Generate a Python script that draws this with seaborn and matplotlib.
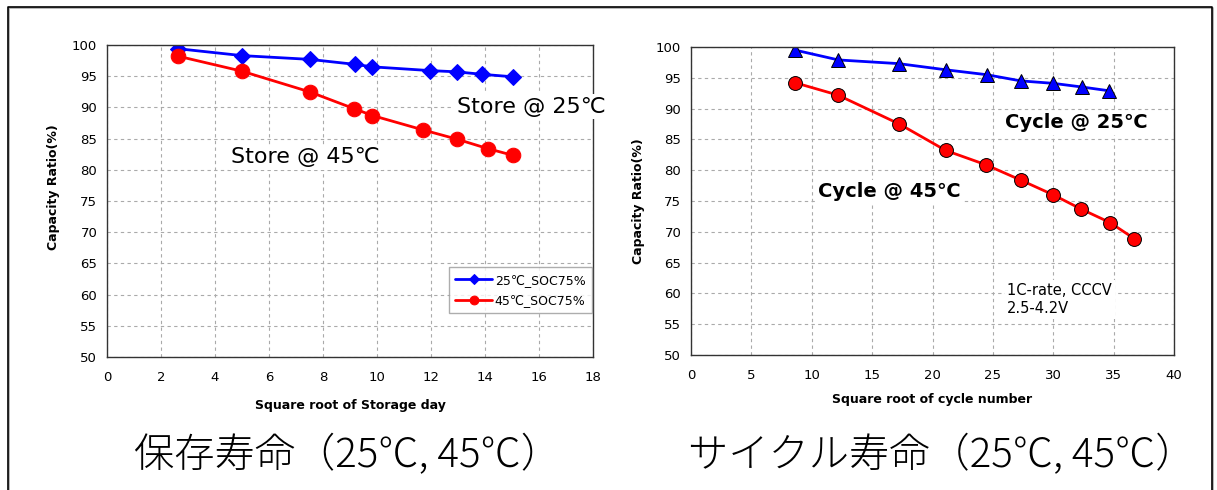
import matplotlib
matplotlib.use("Agg")
import matplotlib.pyplot as plt
import seaborn as sns
import pandas as pd
from matplotlib.lines import Line2D

# ---------------- data ----------------
store_x25 = [2.64, 5.0, 7.5, 9.18, 9.83, 11.96, 12.95, 13.9, 15.05]
store_y25 = [99.4, 98.3, 97.7, 96.9, 96.5, 95.9, 95.7, 95.3, 94.9]
store_x45 = [2.64, 5.0, 7.5, 9.15, 9.83, 11.7, 12.97, 14.1, 15.05]
store_y45 = [98.2, 95.8, 92.5, 89.8, 88.7, 86.4, 84.9, 83.4, 82.3]

cycle_x25 = [8.62, 12.2, 17.2, 21.1, 24.5, 27.3, 30.0, 32.4, 34.6]
cycle_y25 = [99.5, 97.9, 97.3, 96.3, 95.5, 94.5, 94.1, 93.5, 92.9]
cycle_x45 = [8.62, 12.16, 17.25, 21.1, 24.4, 27.3, 30.0, 32.3, 34.7, 36.7]
cycle_y45 = [94.2, 92.2, 87.5, 83.2, 80.9, 78.4, 76.0, 73.7, 71.5, 68.9]

store_labels = ["25℃_SOC75%", "45℃_SOC75%"]
store_xticks = list(range(0, 19, 2))
cycle_xticks = list(range(0, 41, 5))
yticks = list(range(50, 101, 5))

caption_left = "保存寿命（25℃, 45℃）"
caption_right = "サイクル寿命（25℃, 45℃）"

# ---------------- style ----------------
sns.set_style("white")
plt.rcParams['font.family'] = ['DejaVu Sans', 'Noto Sans CJK JP']
plt.rcParams['text.color'] = 'black'
plt.rcParams['axes.labelcolor'] = 'black'
plt.rcParams['xtick.color'] = 'black'
plt.rcParams['ytick.color'] = 'black'

fig = plt.figure(figsize=(12.17, 4.90), dpi=100)
ax1 = fig.add_axes([107/1217, 1-357/490, 486/1217, 312/490])
ax2 = fig.add_axes([691/1217, 1-355/490, 483/1217, 308/490])

BLUE = "#0000ff"
RED = "#ff0000"

# left chart
df_s25 = pd.DataFrame({"x": store_x25, "y": store_y25})
df_s45 = pd.DataFrame({"x": store_x45, "y": store_y45})
sns.lineplot(data=df_s25, x="x", y="y", ax=ax1, color=BLUE, lw=2.0,
             marker="D", markersize=8.5, markeredgecolor=BLUE, label=store_labels[0])
sns.lineplot(data=df_s45, x="x", y="y", ax=ax1, color=RED, lw=2.0,
             marker="o", markersize=10.5, markeredgecolor=RED, label=store_labels[1])

# right chart
df_c25 = pd.DataFrame({"x": cycle_x25, "y": cycle_y25})
df_c45 = pd.DataFrame({"x": cycle_x45, "y": cycle_y45})
sns.lineplot(data=df_c25, x="x", y="y", ax=ax2, color=BLUE, lw=2.0,
             marker="^", markersize=10.5, markeredgecolor="black", markeredgewidth=0.7)
sns.lineplot(data=df_c45, x="x", y="y", ax=ax2, color=RED, lw=2.0,
             marker="o", markersize=10, markeredgecolor="black", markeredgewidth=0.7)

for ax, xt, xl, lp in [(ax1, store_xticks, "Square root of Storage day", 11),
                       (ax2, cycle_xticks, "Square root of cycle number", 8)]:
    ax.set_xlim(xt[0], xt[-1])
    ax.set_ylim(50, 100)
    ax.set_xticks(xt)
    ax.set_yticks(yticks)
    ax.grid(True, color="#aaaaaa", ls=(0, (3, 3)), lw=0.8)
    ax.set_axisbelow(True)
    ax.tick_params(axis="both", length=0, labelsize=9.5, colors="black")
    ax.tick_params(axis="x", pad=10)
    ax.tick_params(axis="y", pad=7)
    for s in ax.spines.values():
        s.set_visible(True)
        s.set_color("#333333")
        s.set_linewidth(1.0)
    ax.set_xlabel(xl, fontsize=9, fontweight="bold", labelpad=lp)
    ax.set_ylabel("Capacity Ratio(%)", fontsize=9, fontweight="bold", labelpad=8)

ax1.yaxis.set_label_coords(-0.097, 0.545)

leg = ax1.legend(loc="lower left", bbox_to_anchor=(0.69, 0.12), fontsize=9,
                 frameon=True, fancybox=False, edgecolor="#999999",
                 markerscale=0.6, handlelength=3.0, handletextpad=0.2,
                 borderpad=0.5, labelspacing=0.6)
leg.get_frame().set_linewidth(1.0)

bb = dict(facecolor="white", edgecolor="none", pad=2)
ax1.text(12.95, 90.1, "Store @ 25℃", fontsize=16, va="center", ha="left", bbox=bb)
ax1.text(4.6, 82.0, "Store @ 45℃", fontsize=16, va="center", ha="left", bbox=bb)
ax2.text(26.0, 87.7, "Cycle @ 25℃", fontsize=14, fontweight="bold", va="center", ha="left", bbox=bb)
ax2.text(10.5, 76.5, "Cycle @ 45℃", fontsize=14, fontweight="bold", va="center", ha="left", bbox=bb)
ax2.text(26.2, 59.0, "1C-rate, CCCV\n2.5-4.2V", fontsize=10.5, va="center", ha="left",
         linespacing=1.3, bbox=bb)

# captions
cjk = ['Noto Sans CJK JP', 'DejaVu Sans']
fig.text(348/1217, 1-456/490, caption_left, fontsize=29, ha="center", va="center",
         family=cjk, fontweight="light")
fig.text(942/1217, 1-456/490, caption_right, fontsize=29, ha="center", va="center",
         family=cjk, fontweight="light")

# outer frame
W, H = 1217, 490
def fl(xs, ys, **kw):
    fig.add_artist(Line2D([x/W for x in xs], [1-y/H for y in ys], transform=fig.transFigure, **kw))
fl([9, 9, 1213, 1213], [492, 8.5, 8.5, 492], color="#aaaaaa", lw=1.2)
fl([7.5, 7.5, 1211.5, 1211.5], [492, 7, 7, 492], color="black", lw=1.2)

fig.savefig("out.png", dpi=100)
